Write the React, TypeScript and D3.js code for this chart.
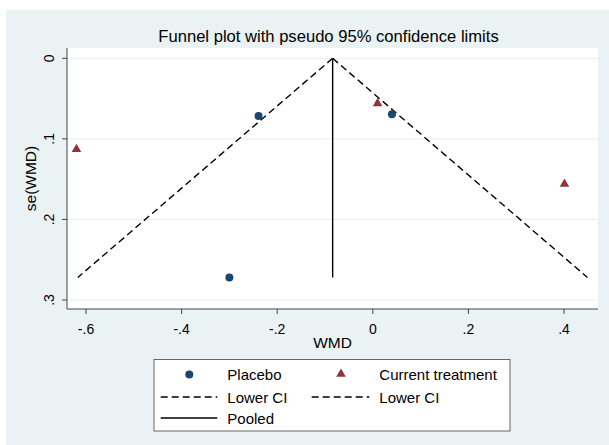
import React from 'react';
import * as d3 from 'd3';

// study estimates
const placeboWmd = [-0.239, 0.04, -0.3];
const placeboSe = [0.0716, 0.0695, 0.272];
const currentWmd = [-0.62, 0.01, 0.401];
const currentSe = [0.113, 0.056, 0.156];

const pooled = -0.084;
const maxSe = 0.272;

const xTicks = [-0.6, -0.4, -0.2, 0, 0.2, 0.4];
const yTicks = [0, 0.1, 0.2, 0.3];
const legendLabels = ['Placebo', 'Current treatment', 'Lower CI', 'Lower CI', 'Pooled'];

const navy = '#1a476f';
const maroon = '#90353b';
const bg = '#eaf2f3';
const font = '"Liberation Sans", Arial, sans-serif';
const dash = '7,4';

function fmt(v: number) {
  if (v === 0) return '0';
  const s = String(+v.toFixed(2));
  return s.replace('0.', '.');
}

export default function App() {
  const width = 609, height = 445;
  const left = 67, right = 598, top = 48, bottom = 309;

  const x = d3.scaleLinear().domain([-0.6, 0.4]).range([86, 564]);
  const y = d3.scaleLinear().domain([0, 0.3]).range([58.3, 300]);

  const ciSe = [0, maxSe];
  const lowerLine = d3.line<number>().x(s => x(pooled - 1.96 * s)).y(s => y(s));
  const upperLine = d3.line<number>().x(s => x(pooled + 1.96 * s)).y(s => y(s));

  const tri = d3.symbol().type(d3.symbolTriangle).size(40)();

  return (
    <svg width={width} height={height} style={{ position: 'absolute', left: 0, top: 0 }}>
      <rect x={6} y={10} width={width - 6} height={height - 10} fill={bg} />
      <rect x={left} y={top} width={right - left} height={bottom - top} fill="#fff" />

      {yTicks.map(t => (
        <line key={'g' + t} x1={left} x2={right} y1={y(t)} y2={y(t)} stroke={bg} strokeWidth={1.2} />
      ))}

      <text x={328.5} y={42} textAnchor="middle" fontFamily={font} fontSize={16.6} fill="#000">
        Funnel plot with pseudo 95% confidence limits
      </text>

      {/* axes */}
      <line x1={left} x2={left} y1={top} y2={bottom} stroke="#444" strokeWidth={1} />
      <line x1={left} x2={right} y1={bottom} y2={bottom} stroke="#444" strokeWidth={1} />
      {yTicks.map(t => (
        <g key={'y' + t}>
          <line x1={left - 5} x2={left} y1={y(t)} y2={y(t)} stroke="#444" />
          <text transform={`translate(53.5,${y(t)}) rotate(-90)`} textAnchor="middle"
            fontFamily={font} fontSize={14} fill="#000">{fmt(t)}</text>
        </g>
      ))}
      {xTicks.map(t => (
        <g key={'x' + t}>
          <line x1={x(t)} x2={x(t)} y1={bottom} y2={bottom + 5} stroke="#444" />
          <text x={x(t)} y={334} textAnchor="middle" fontFamily={font} fontSize={14} fill="#000">{fmt(t)}</text>
        </g>
      ))}
      <text x={332.5} y={348} textAnchor="middle" fontFamily={font} fontSize={15.5} fill="#000">WMD</text>
      <text transform={`translate(36,178.5) rotate(-90)`} textAnchor="middle" fontFamily={font}
        fontSize={15.5} fill="#000">se(WMD)</text>

      {/* funnel */}
      <path d={lowerLine(ciSe) || ''} fill="none" stroke="#000" strokeWidth={1.4} strokeDasharray={dash} />
      <path d={upperLine(ciSe) || ''} fill="none" stroke="#000" strokeWidth={1.4} strokeDasharray={dash} />
      <line x1={x(pooled)} x2={x(pooled)} y1={y(0)} y2={y(maxSe)} stroke="#000" strokeWidth={1.4} />

      {placeboWmd.map((w, i) => (
        <circle key={'p' + i} cx={x(w)} cy={y(placeboSe[i])} r={4} fill={navy} />
      ))}
      {currentWmd.map((w, i) => (
        <path key={'c' + i} d={tri || ''} transform={`translate(${x(w)},${y(currentSe[i])})`} fill={maroon} />
      ))}

      {/* legend */}
      <rect x={154} y={359.5} width={356} height={71.5} fill="#fff" stroke="#666" strokeWidth={1} />
      <circle cx={189.3} cy={374.5} r={4} fill={navy} />
      <path d={tri || ''} transform="translate(341,374)" fill={maroon} />
      <line x1={160.7} x2={217.3} y1={397} y2={397} stroke="#000" strokeWidth={1.3} strokeDasharray={dash} />
      <line x1={311.7} x2={369.3} y1={397} y2={397} stroke="#000" strokeWidth={1.3} strokeDasharray={dash} />
      <line x1={160.7} x2={217.3} y1={418} y2={418} stroke="#000" strokeWidth={1.3} />
      {[
        [227.3, 380], [379.3, 380], [227.3, 402.5], [379.3, 402.5], [227.3, 423.5],
      ].map(([tx, ty], i) => (
        <text key={'l' + i} x={tx} y={ty} fontFamily={font} fontSize={15} fill="#000">{legendLabels[i]}</text>
      ))}
    </svg>
  );
}
